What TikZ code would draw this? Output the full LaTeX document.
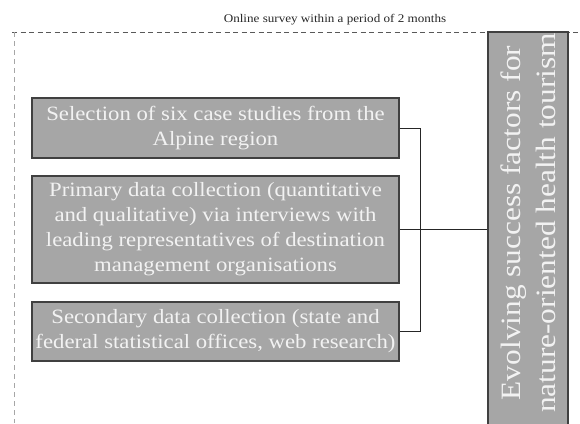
\documentclass[tikz,border=0pt]{standalone}
\usepackage{fontspec}
\setmainfont{Liberation Serif}[FakeStretch=1.12]
\definecolor{boxfill}{HTML}{A6A6A6}
\definecolor{boxline}{HTML}{404040}
\definecolor{boxtext}{HTML}{F2F2F2}
\definecolor{wire}{HTML}{262626}
\tikzset{
  stagebox/.style={draw=boxline, line width=1.1pt, fill=boxfill, text=boxtext,
    minimum width=367pt, inner sep=0pt, align=center,
    font=\fontsize{20.3}{25}\selectfont},
  goalbox/.style={draw=boxline, line width=1.1pt, fill=boxfill,
    rotate=90, minimum width=398pt, minimum height=80pt, inner sep=0pt},
  goaltext/.style={text=boxtext, rotate=90, inner sep=0pt, align=center,
    font=\fontsize{28}{35}\selectfont},
  link/.style={draw=wire, line width=0.9pt},
}
\begin{document}
\begin{tikzpicture}[x=1pt, y=-1pt]
  \useasboundingbox (0,0) rectangle (580,423);
  % survey period frame
  \draw[draw=black!65, line width=0.8pt, dash pattern=on 5pt off 3.5pt] (12,32) -- (580,32);
  \draw[draw=black!35, line width=0.7pt, dash pattern=on 5pt off 4pt] (14,32) -- (14,423);
  \node[text=wire, font=\fontsize{11.7}{13}\selectfont] (period) at (335,20)
    {Online survey within a period of 2 months};
  % method stages
  \node[stagebox, minimum height=60pt] (sel) at (215.5,128)
    {Selection of six case studies from the\\Alpine region};
  \node[stagebox, minimum height=107pt] (prim) at (215.5,229.5)
    {Primary data collection (quantitative\\and qualitative) via interviews with\\leading representatives of destination\\management organisations};
  \node[stagebox, minimum height=59pt] (sec) at (215.5,331.5)
    {Secondary data collection (state and\\federal statistical offices, web research)};
  % outcome
  \node[goalbox] (goal) at (528,231) {};
  \node[goaltext] (goallabel) at (528,223)
    {Evolving success factors for\\nature-oriented health tourism};
  % connectors
  \coordinate (bend) at (420,128);
  \draw[link] (sel.east) -- (bend) |- (sec.east);
  \draw[link] (prim.east) -- (prim.east -| goal.north);
\end{tikzpicture}
\end{document}
